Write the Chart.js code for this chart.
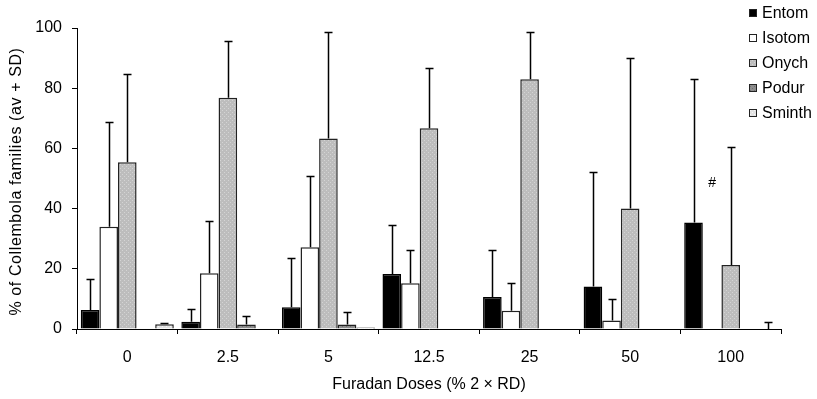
<!DOCTYPE html>
<html>
<head>
<meta charset="utf-8">
<script src="https://cdn.jsdelivr.net/npm/chart.js@4.4.0/dist/chart.umd.min.js"></script>
<style>
  html, body { margin: 0; padding: 0; background: #fff; }
  canvas { display: block; }
</style>
</head>
<body>
<canvas id="myChart" width="817" height="399"></canvas>
<script>
// Furadan doses (x categories)
const doses = ['0', '2.5', '5', '12.5', '25', '50', '100'];
const families = ['Entom', 'Isotom', 'Onych', 'Podur', 'Sminth'];

// mean % per family, and SD (drawn upward only)
const entom    = [6.3, 2.4, 7.2, 18.3, 10.6, 14.1, 35.4];
const entomSD  = [10.2, 4.2, 16.5, 16.3, 15.7, 38.0, 47.6];
const isotom   = [34.0, 18.5, 27.2, 15.2, 6.1, 2.8, 0];
const isotomSD = [34.7, 17.3, 23.7, 10.9, 9.1, 7.2, 0];
const onych    = [55.4, 76.8, 63.3, 66.7, 83.0, 40.0, 21.3];
const onychSD  = [29.2, 19.0, 35.5, 20.1, 15.8, 50.1, 39.3];
const podur    = [0, 1.5, 1.5, 0, 0, 0, 0];
const podurSD  = [0, 2.9, 4.2, 0, 0, 0, 0];
const sminth   = [1.6, 0, 0.5, 0, 0, 0, 0];
const sminthSD = [0.5, 0, 0, 0, 0, 0, 2.4];

const yTicks = [0, 20, 40, 60, 80, 100];
const yTitle = '% of Collembola families (av + SD)';

// significance mark above the 100 dose group
const markText = '#';
const markValue = 48.5;

const FONT = '"Liberation Sans", Arial, sans-serif';

// small dotted fills for the grey bars
function makePattern(base, dot) {
  const c = document.createElement('canvas');
  c.width = 4; c.height = 4;
  const g = c.getContext('2d');
  g.fillStyle = base;
  g.fillRect(0, 0, 4, 4);
  g.fillStyle = dot;
  g.fillRect(0, 0, 1, 1);
  g.fillRect(2, 2, 1, 1);
  return g.createPattern(c, 'repeat');
}

const fills = [
  '#000000',
  '#ffffff',
  makePattern('#bdbdbd', '#d4d4d4'),
  makePattern('#8c8c8c', '#6f6f6f'),
  makePattern('#e2e2e2', '#f6f6f6')
];

const means = [entom, isotom, onych, podur, sminth];
const sds = [entomSD, isotomSD, onychSD, podurSD, sminthSD];

// SD whiskers: vertical line from bar top with a short cap
const errorBars = {
  id: 'errorBars',
  afterDatasetsDraw(chart) {
    const ctx = chart.ctx;
    const y = chart.scales.y;
    ctx.save();
    ctx.strokeStyle = '#000';
    ctx.lineWidth = 1.5;
    chart.data.datasets.forEach((ds, i) => {
      const meta = chart.getDatasetMeta(i);
      meta.data.forEach((bar, j) => {
        const sd = sds[i][j];
        if (!sd) return;
        const x = Math.round(bar.x) + 0.5;
        const y0 = y.getPixelForValue(ds.data[j]);
        const y1 = Math.round(y.getPixelForValue(ds.data[j] + sd)) + 0.5;
        ctx.beginPath();
        ctx.moveTo(x, y0);
        ctx.lineTo(x, y1);
        ctx.moveTo(x - 4, y1);
        ctx.lineTo(x + 4, y1);
        ctx.stroke();
      });
    });
    // '#' mark
    const bar = chart.getDatasetMeta(1).data[6];
    ctx.fillStyle = '#000';
    ctx.font = '14px ' + FONT;
    ctx.textAlign = 'center';
    ctx.textBaseline = 'middle';
    ctx.fillText(markText, bar.x, y.getPixelForValue(markValue));
    ctx.restore();
  }
};

// legend stacked in the top right corner, plus the rotated y title
const sideLegend = {
  id: 'sideLegend',
  afterDraw(chart) {
    const ctx = chart.ctx;
    const area = chart.chartArea;
    ctx.save();
    ctx.font = '16px ' + FONT;
    ctx.textAlign = 'left';
    ctx.textBaseline = 'middle';
    families.forEach((name, i) => {
      const cy = 13 + i * 25;
      ctx.fillStyle = fills[i];
      ctx.fillRect(749, cy - 4, 8, 8);
      ctx.strokeStyle = '#222';
      ctx.lineWidth = 1;
      ctx.strokeRect(749.5, cy - 3.5, 7, 7);
      ctx.fillStyle = '#000';
      ctx.fillText(name, 762, cy + 1);
    });

    ctx.translate(17, (area.top + area.bottom) / 2 + 3);
    ctx.rotate(-Math.PI / 2);
    ctx.textAlign = 'center';
    ctx.letterSpacing = '0.6px';
    ctx.fillText(yTitle, 0, 0);
    ctx.restore();
  }
};

const ctx = document.getElementById('myChart').getContext('2d');
new Chart(ctx, {
  type: 'bar',
  data: {
    labels: doses,
    datasets: families.map((name, i) => ({
      label: name,
      data: means[i],
      backgroundColor: fills[i],
      borderColor: i === 0 ? '#000' : '#222',
      borderWidth: 1.5,
      barPercentage: 1,
      categoryPercentage: 0.925
    }))
  },
  options: {
    responsive: false,
    animation: false,
    layout: { padding: { top: 28, right: 36, left: 0, bottom: 0 } },
    plugins: {
      legend: { display: false },
      tooltip: { enabled: false }
    },
    scales: {
      x: {
        afterFit(scale) { scale.height = 70; },
        border: { color: '#000', width: 1 },
        grid: { offset: true, drawOnChartArea: false, drawTicks: true, tickLength: 5, color: '#000' },
        ticks: { color: '#000', font: { family: FONT, size: 16 }, padding: 14 },
        title: {
          display: true,
          text: 'Furadan Doses (% 2 × RD)',
          color: '#000',
          font: { family: FONT, size: 16 },
          padding: { top: 0, bottom: 5 }
        }
      },
      y: {
        min: 0,
        max: 100,
        afterFit(scale) { scale.width = 77; },
        afterBuildTicks(scale) { scale.ticks = yTicks.map(v => ({ value: v })); },
        border: { color: '#000', width: 1 },
        grid: { drawOnChartArea: false, drawTicks: true, tickLength: 5, color: '#000' },
        ticks: { color: '#000', font: { family: FONT, size: 16 }, padding: 10 }
      }
    }
  },
  plugins: [errorBars, sideLegend]
});
</script>
</body>
</html>
